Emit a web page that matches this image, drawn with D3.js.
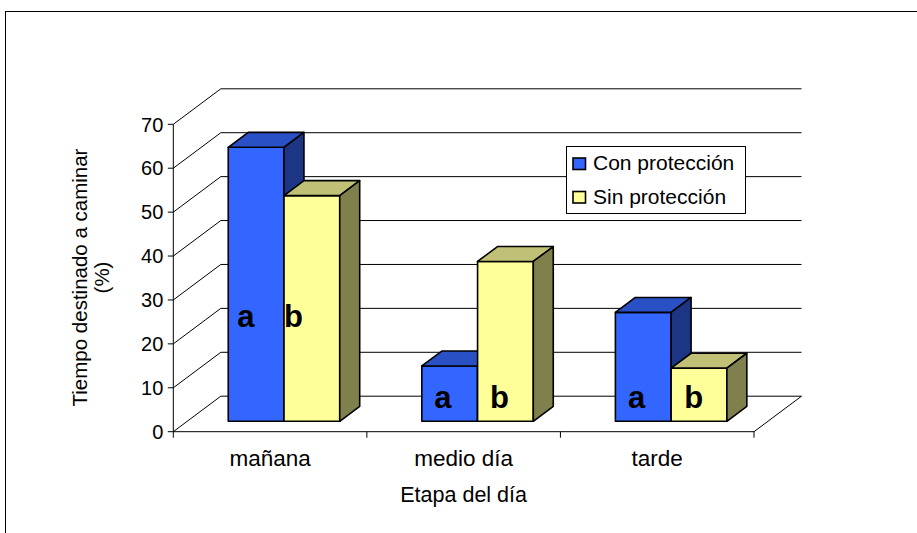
<!DOCTYPE html>
<html>
<head>
<meta charset="utf-8">
<script src="https://cdn.jsdelivr.net/npm/d3@7"></script>
<style>
  html, body { margin: 0; padding: 0; background: #fff; }
  svg { display: block; font-family: "Liberation Sans", Arial, sans-serif; }
</style>
</head>
<body>
<svg id="chart" width="917" height="533"></svg>
<script>
// Time spent walking (%) by stage of the day, with and without protection
const categories = ["mañana", "medio día", "tarde"];
const seriesNames = ["Con protección", "Sin protección"];
const conProteccion = [62.4, 12.6, 24.8];
const sinProteccion = [51.4, 36.4, 12.1];
const letrasCon = ["a", "a", "a"];
const letrasSin = ["b", "b", "b"];
const yTicks = [0, 10, 20, 30, 40, 50, 60, 70];

const yTitle = ["Tiempo destinado a caminar", "(%)"];
const xTitle = "Etapa del día";

const svg = d3.select("#chart");

// --- 3D oblique projection setup ---
const Y0 = 431.7;          // front floor edge
const DX = 47.5, DY = 35.5; // full depth offset of the walls
const xLeft = 173.3, xRight = 754;
const zFront = 0.293, zBack = 0.713; // depth slot occupied by the columns

const y = d3.scaleLinear().domain([0, 70]).range([0, 307.4]);
const x = d3.scaleBand().domain(categories).range([xLeft, xRight]).paddingInner(0).paddingOuter(0);

const P = (px, v, z) => [px + z * DX, Y0 - y(v) - z * DY];
const poly = pts => pts.map(p => p.join(",")).join(" ");

const colors = {
  "Con protección": { front: "#3366FF", top: "#2A50C6", side: "#1C3585" },
  "Sin protección": { front: "#FFFF99", top: "#C0C076", side: "#80804D" }
};

// outer frame
svg.append("rect")
  .attr("x", 5.5).attr("y", 11.5)
  .attr("width", 1000).attr("height", 600)
  .attr("fill", "none").attr("stroke", "#000").attr("stroke-width", 1);

const grid = svg.append("g").attr("stroke", "#000").attr("stroke-width", 1).attr("fill", "none");

// side wall diagonals and back wall gridlines
yTicks.forEach(v => {
  const a = P(xLeft, v, 0), b = P(xLeft, v, 1), c = P(xRight, v, 1);
  grid.append("polyline").attr("points", poly([a, b, c]));
});

// floor edges: front baseline and right edge
grid.append("polyline").attr("points", poly([P(xLeft, 0, 0), P(xRight, 0, 0), P(xRight, 0, 1)]));

// value axis
const axisG = svg.append("g");
axisG.append("line")
  .attr("x1", xLeft).attr("x2", xLeft)
  .attr("y1", Y0 - y(70)).attr("y2", Y0)
  .attr("stroke", "#000");
yTicks.forEach(v => {
  const yy = Y0 - y(v);
  axisG.append("line").attr("x1", xLeft - 5.5).attr("x2", xLeft).attr("y1", yy).attr("y2", yy).attr("stroke", "#000");
  axisG.append("text")
    .attr("x", xLeft - 10).attr("y", yy)
    .attr("dy", "0.36em")
    .attr("text-anchor", "end")
    .attr("font-size", 20)
    .text(v);
});

// category ticks and labels
const catEdges = categories.map(c => x(c)).concat([xRight]);
catEdges.forEach(px => {
  axisG.append("line").attr("x1", px).attr("x2", px).attr("y1", Y0).attr("y2", Y0 + 6).attr("stroke", "#000");
});
categories.forEach(c => {
  axisG.append("text")
    .attr("x", x(c) + x.bandwidth() / 2)
    .attr("y", 466)
    .attr("text-anchor", "middle")
    .attr("font-size", 22.5)
    .text(c);
});

// axis titles
svg.append("text")
  .attr("x", (xLeft + xRight) / 2).attr("y", 502)
  .attr("text-anchor", "middle").attr("font-size", 21.5)
  .text(xTitle);

const yt = svg.append("g").attr("transform", "translate(86.5,277.5) rotate(-90)");
yTitle.forEach((t, i) => {
  yt.append("text")
    .attr("x", 0).attr("y", i * 22)
    .attr("text-anchor", "middle").attr("font-size", 20.5)
    .text(t);
});

// columns
const groupW = x.bandwidth() * 0.576;
const inner = d3.scaleBand().domain(seriesNames).range([0, groupW]);
const values = { "Con protección": conProteccion, "Sin protección": sinProteccion };
const letters = { "Con protección": letrasCon, "Sin protección": letrasSin };

// letter placement inside the columns: value level of the baseline and inset from the left edge
const letterLevel = [21.5, 3, 3];
const letterInset = { "Con protección": [9, 12.5, 12.5], "Sin protección": [0, 12.5, 13] };

const bars = svg.append("g").attr("stroke", "#000").attr("stroke-width", 1.6).attr("stroke-linejoin", "round");

categories.forEach((c, i) => {
  const gx = x(c) + x.bandwidth() / 2 - groupW / 2;
  seriesNames.forEach(s => {
    const v = values[s][i];
    const x0 = gx + inner(s), x1 = x0 + inner.bandwidth();
    const col = colors[s];
    // front face
    bars.append("polygon")
      .attr("points", poly([P(x0, 0, zFront), P(x1, 0, zFront), P(x1, v, zFront), P(x0, v, zFront)]))
      .attr("fill", col.front);
    // top face
    bars.append("polygon")
      .attr("points", poly([P(x0, v, zFront), P(x1, v, zFront), P(x1, v, zBack), P(x0, v, zBack)]))
      .attr("fill", col.top);
    // right side face
    bars.append("polygon")
      .attr("points", poly([P(x1, 0, zFront), P(x1, 0, zBack), P(x1, v, zBack), P(x1, v, zFront)]))
      .attr("fill", col.side);
  });
});

// significance letters
const lettersG = svg.append("g");
categories.forEach((c, i) => {
  const gx = x(c) + x.bandwidth() / 2 - groupW / 2;
  seriesNames.forEach(s => {
    const x0 = gx + inner(s);
    const p = P(x0 + letterInset[s][i], letterLevel[i], zFront);
    lettersG.append("text")
      .attr("x", p[0]).attr("y", p[1])
      .attr("font-size", 31).attr("font-weight", "bold")
      .text(letters[s][i]);
  });
});

// legend
const lg = svg.append("g");
lg.append("rect")
  .attr("x", 566.5).attr("y", 146.5).attr("width", 179).attr("height", 67)
  .attr("fill", "#fff").attr("stroke", "#000");
seriesNames.forEach((s, i) => {
  const yy = 158 + i * 33.5;
  lg.append("rect")
    .attr("x", 573).attr("y", yy).attr("width", 12.5).attr("height", 11.5)
    .attr("fill", colors[s].front).attr("stroke", "#000").attr("stroke-width", 1.6);
  lg.append("text")
    .attr("x", 593).attr("y", yy + 12)
    .attr("font-size", 21)
    .text(s);
});
</script>
</body>
</html>
